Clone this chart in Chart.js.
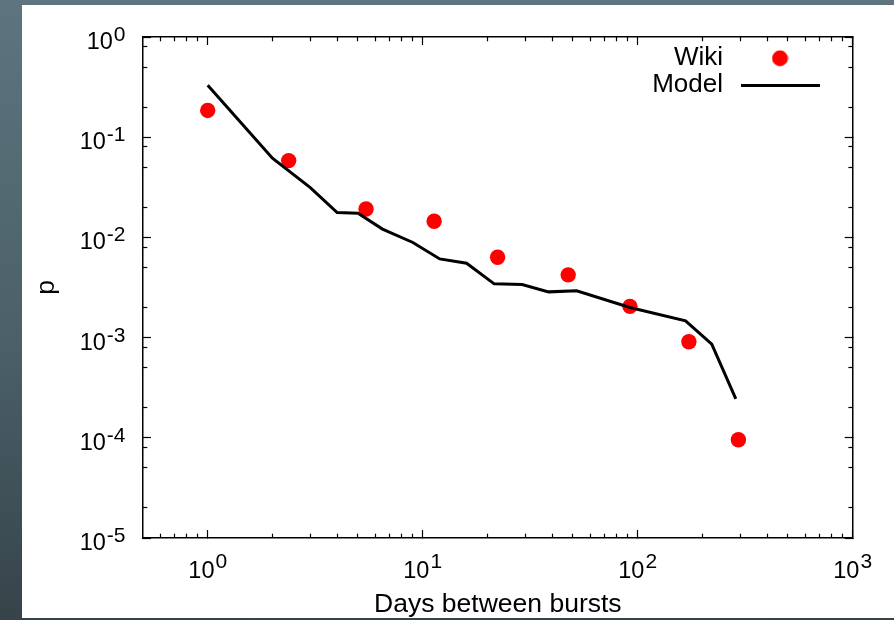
<!DOCTYPE html>
<html>
<head>
<meta charset="utf-8">
<script src="https://cdn.jsdelivr.net/npm/chart.js@4.4.1/dist/chart.umd.min.js"></script>
<style>
  html, body { margin: 0; padding: 0; width: 894px; height: 620px; overflow: hidden; }
  body { position: relative; background: linear-gradient(180deg, #5d757f 0%, #4b6068 55%, #36444a 100%); }
  #panel { position: absolute; left: 22px; top: 5px; width: 872px; height: 613px; background: #ffffff; }
  #chart { position: absolute; left: 0; top: 0; }
</style>
</head>
<body>
<div id="panel"></div>
<canvas id="chart" width="894" height="620"></canvas>
<script>
// ---- data ----
const seriesNames = ['Wiki', 'Model'];
const wikiDays = [1, 2.38, 5.45, 11.3, 22.3, 47.5, 92, 173, 294];
const wikiP = [0.185, 0.0584, 0.0192, 0.0145, 0.00633, 0.00423, 0.00205, 0.00091, 0.0000957];
const modelDays = [1, 2, 3, 4, 5, 6.5, 9, 12, 16, 21.5, 29, 38.5, 52, 92, 167, 221, 286];
const modelP = [0.33, 0.0617, 0.0314, 0.0177, 0.0174, 0.0121, 0.0089, 0.0061, 0.00553, 0.00344, 0.00339, 0.00286, 0.00293, 0.0020, 0.00147, 0.00086, 0.000245];
const xTickValues = [1, 10, 100, 1000];
const xTickExponents = ['0', '1', '2', '3'];
const yTickValues = [1, 0.1, 0.01, 0.001, 0.0001, 0.00001];
const yTickExponents = ['0', '-1', '-2', '-3', '-4', '-5'];
const xTitle = 'Days between bursts';
const yTitle = 'p';
const xRange = [0.5, 1000];
const yRange = [0.00001, 1];

// minor tick positions (x: 2..9 per decade, y: 2,5,8 per decade)
const xMinorTicks = [];
[0.1, 1, 10, 100].forEach(d => { for (let m = 2; m <= 9; m++) { const v = +(m * d).toPrecision(3); if (v > xRange[0] && v < xRange[1]) xMinorTicks.push(v); } });
const yMinorTicks = [];
[0.00001, 0.0001, 0.001, 0.01, 0.1].forEach(d => { [2, 5, 8].forEach(m => yMinorTicks.push(+(m * d).toPrecision(3))); });

const FONT = '"Liberation Sans", Arial, Helvetica, sans-serif';

// legend sample images
const dotImg = document.createElement('canvas');
dotImg.width = 17; dotImg.height = 17;
(function () { const c = dotImg.getContext('2d'); c.fillStyle = '#ff0000'; c.beginPath(); c.arc(8.5, 8.5, 7.9, 0, Math.PI * 2); c.fill(); })();
const lineImg = document.createElement('canvas');
lineImg.width = 79; lineImg.height = 3;
(function () { const c = lineImg.getContext('2d'); c.fillStyle = '#000'; c.fillRect(0, 0, 79, 3); })();

const setTicks = (values) => (axis) => { axis.ticks = values.map(v => ({ value: v })); };

function axisDef(position, range, ticks, len, opts) {
  return Object.assign({
    type: 'logarithmic',
    position: position,
    min: range[0],
    max: range[1],
    afterBuildTicks: setTicks(ticks),
    ticks: { display: false },
    grid: { display: true, drawOnChartArea: false, drawTicks: true, tickLength: len, tickColor: '#000', tickWidth: 1.2 },
    border: { display: false },
    title: { display: false }
  }, opts);
}

const zeroH = (s) => { s.height = 0; };
const zeroW = (s) => { s.width = 0; };

const decadeLabels = {
  id: 'decadeLabels',
  afterDraw(chart) {
    const ctx = chart.ctx, xs = chart.scales.x, ys = chart.scales.y;
    const mainFont = '23.5px ' + FONT, supFont = '21px ' + FONT;
    ctx.save();
    ctx.fillStyle = '#000';
    ctx.textAlign = 'left';
    ctx.textBaseline = 'alphabetic';
    const widths = (exp) => {
      ctx.font = mainFont; const a = ctx.measureText('10').width;
      ctx.font = supFont; const b = ctx.measureText(exp).width;
      return [a, b];
    };
    const put = (exp, x0, baseY, raise) => {
      const [a] = widths(exp);
      ctx.font = mainFont; ctx.fillText('10', x0, baseY);
      ctx.font = supFont; ctx.fillText(exp, x0 + a + 1, baseY - raise);
    };
    xTickValues.forEach((v, i) => {
      const px = xs.getPixelForValue(v);
      const [a, b] = widths(xTickExponents[i]);
      put(xTickExponents[i], px - (a + b + 1) / 2, xs.top + 39.7, 10);
    });
    yTickValues.forEach((v, i) => {
      const py = ys.getPixelForValue(v);
      const [a, b] = widths(yTickExponents[i]);
      put(yTickExponents[i], ys.right - 17.5 - (a + b + 1), py + 12, 8);
    });
    ctx.restore();
  }
};

const legendPlacer = {
  id: 'legendPlacer',
  afterLayout(chart) {
    const lg = chart.legend;
    if (!lg) return;
    const ca = chart.chartArea;
    lg.left = ca.left;
    lg.right = 825;
    lg.width = lg.right - lg.left;
    lg.top = 44.3;
    lg.height = 120;
    lg.bottom = lg.top + lg.height;
  }
};

new Chart(document.getElementById('chart'), {
  type: 'scatter',
  data: {
    datasets: [
      {
        label: seriesNames[0],
        data: wikiDays.map((d, i) => ({ x: d, y: wikiP[i] })),
        xAxisID: 'x', yAxisID: 'y',
        order: 2,
        pointRadius: 7.7,
        pointHoverRadius: 7.7,
        pointBackgroundColor: '#ff0000',
        backgroundColor: '#ff0000',
        borderColor: '#ff0000',
        pointBorderWidth: 0,
        showLine: false
      },
      {
        label: seriesNames[1],
        data: modelDays.map((d, i) => ({ x: d, y: modelP[i] })),
        xAxisID: 'x', yAxisID: 'y',
        order: 1,
        showLine: true,
        borderColor: '#000',
        backgroundColor: '#000',
        borderWidth: 3,
        pointRadius: 0,
        pointHoverRadius: 0,
        pointBorderWidth: 3,
        pointBorderColor: '#000',
        tension: 0,
        fill: false
      }
    ]
  },
  options: {
    responsive: false,
    animation: false,
    devicePixelRatio: 1,
    layout: { padding: { top: 37, right: 41.3, bottom: 0, left: 0 } },
    scales: {
      x: axisDef('bottom', xRange, xTickValues, -8, {
        weight: 1,
        afterFit: (s) => { s.height = 82; },
        border: { display: true, color: '#000', width: 1.5 },
        title: { display: true, text: xTitle, color: '#000', font: { family: FONT, size: 26.5, lineHeight: 1.15 }, padding: { top: 0, bottom: 0 } }
      }),
      xMinor: axisDef('bottom', xRange, xMinorTicks, -4.3, { weight: 0, afterFit: zeroH }),
      xTop: axisDef('top', xRange, xTickValues, -8, { weight: 0, afterFit: zeroH, border: { display: true, color: '#000', width: 1.5 } }),
      xTopMinor: axisDef('top', xRange, xMinorTicks, -4.3, { weight: 0, afterFit: zeroH }),
      y: axisDef('left', yRange, yTickValues, -8, {
        weight: 1,
        afterFit: (s) => { s.width = 143; },
        border: { display: true, color: '#000', width: 1.5 },
        title: { display: true, text: yTitle, color: '#000', font: { family: FONT, size: 26.5, lineHeight: 1.15 }, padding: { top: 31, bottom: 0 } }
      }),
      yMinor: axisDef('left', yRange, yMinorTicks, -4.3, { weight: 0, afterFit: zeroW }),
      yRight: axisDef('right', yRange, yTickValues, -8, { weight: 0, afterFit: zeroW, border: { display: true, color: '#000', width: 1.5 } }),
      yRightMinor: axisDef('right', yRange, yMinorTicks, -4.3, { weight: 0, afterFit: zeroW })
    },
    plugins: {
      tooltip: { enabled: false },
      title: { display: false },
      legend: {
        display: true,
        position: 'chartArea',
        align: 'start',
        rtl: true,
        labels: {
          usePointStyle: true,
          pointStyleWidth: 88,
          boxHeight: 11.3,
          padding: 1,
          color: '#000',
          font: { family: FONT, size: 26 },
          generateLabels: (chart) => {
            const items = Chart.defaults.plugins.legend.labels.generateLabels(chart);
            items.forEach(it => { it.pointStyle = it.datasetIndex === 0 ? dotImg : lineImg; });
            return items.sort((a, b) => a.datasetIndex - b.datasetIndex);
          }
        }
      }
    }
  },
  plugins: [decadeLabels, legendPlacer]
});
</script>
</body>
</html>
